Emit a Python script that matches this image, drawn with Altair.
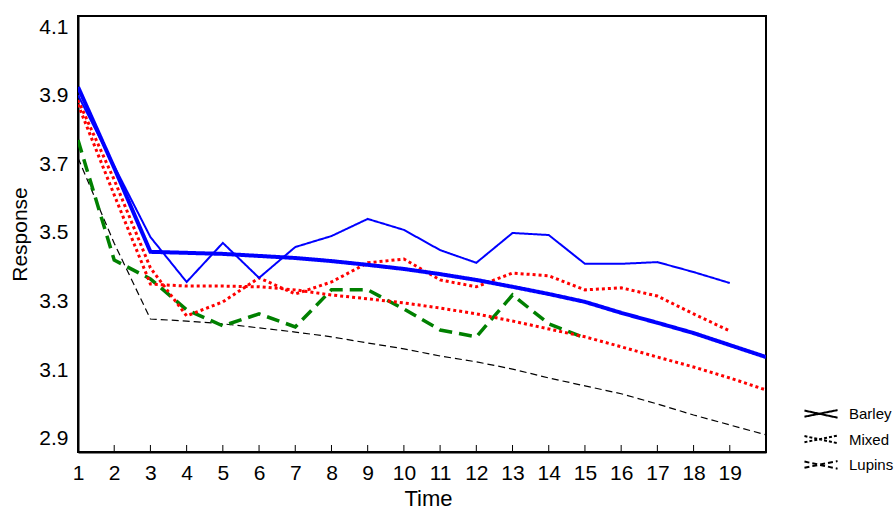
import altair as alt
import pandas as pd

# ---- data ----
times = list(range(1, 21))

barley_obs = [3.902, 3.695, 3.488, 3.357, 3.471, 3.369, 3.459, 3.491, 3.541, 3.509,
              3.450, 3.413, 3.500, 3.494, 3.410, 3.410, 3.415, 3.386, 3.354]
barley_fit = [3.926, 3.690, 3.445, 3.442, 3.439, 3.433, 3.427, 3.418, 3.407, 3.395,
              3.380, 3.363, 3.343, 3.322, 3.299, 3.267, 3.238, 3.208, 3.173, 3.138]
mixed_obs = [3.888, 3.655, 3.398, 3.258, 3.299, 3.369, 3.322, 3.357, 3.413, 3.424,
             3.363, 3.343, 3.383, 3.375, 3.334, 3.340, 3.316, 3.264, 3.214]
mixed_fit = [3.875, 3.611, 3.351, 3.345, 3.345, 3.343, 3.334, 3.319, 3.308, 3.296,
             3.281, 3.264, 3.243, 3.220, 3.197, 3.168, 3.138, 3.109, 3.077, 3.042]
lupins_obs = [3.771, 3.421, 3.366, 3.276, 3.229, 3.264, 3.226, 3.334, 3.334, 3.278,
              3.217, 3.197, 3.319, 3.235, 3.194]
lupins_fit = [3.719, 3.470, 3.249, 3.243, 3.235, 3.223, 3.211, 3.197, 3.179, 3.162,
              3.141, 3.124, 3.103, 3.077, 3.054, 3.031, 3.001, 2.969, 2.940, 2.911]

diets = ["Barley", "Mixed", "Lupins"]
series_names = ["Lupins fit", "Lupins obs", "Mixed fit", "Mixed obs", "Barley obs", "Barley fit"]
series_values = {
    "Barley obs": barley_obs, "Barley fit": barley_fit,
    "Mixed obs": mixed_obs, "Mixed fit": mixed_fit,
    "Lupins obs": lupins_obs, "Lupins fit": lupins_fit,
}
x_tick_labels = list(range(1, 20))
y_tick_labels = [2.9, 3.1, 3.3, 3.5, 3.7, 3.9, 4.1]

rows = []
for s in series_names:
    for t, v in zip(times, series_values[s]):
        rows.append({"Series": s, "Time": t, "Response": v})
df = pd.DataFrame(rows)
ticks_df = pd.DataFrame({"Time": x_tick_labels})
legend_df = pd.DataFrame({"Diet": diets})

FONT = "Liberation Sans"

x_scale = alt.Scale(domain=[1, 20], nice=False, zero=False)
y_scale = alt.Scale(domain=[2.861, 4.133], nice=False, zero=False)

x_axis = alt.Axis(values=x_tick_labels, title="Time", format="d",
                  labelFontSize=21, labelFont=FONT, labelColor="black",
                  labelPadding=10, ticks=False, tickSize=0,
                  labelFlush=False, labelOverlap=False,
                  domainColor="black", domainWidth=2, grid=False,
                  titleFont=FONT, titleFontSize=22, titleFontWeight="normal",
                  titleColor="black", titleX=350, titleY=46,
                  titleBaseline="middle", titleAlign="center")
y_axis = alt.Axis(values=y_tick_labels, title="Response", format=".1f",
                  labelFontSize=21, labelFont=FONT, labelColor="black",
                  labelPadding=10, ticks=False, tickSize=0,
                  labelFlush=False, labelOverlap=False,
                  domainColor="black", domainWidth=2, grid=False,
                  titleFont=FONT, titleFontSize=21, titleFontWeight="normal",
                  titleColor="black", titleX=-58, titleY=218, titleAngle=270,
                  titleBaseline="middle", titleAlign="center")

lines = alt.Chart(df).mark_line(strokeCap="butt", strokeJoin="miter", clip=True).encode(
    x=alt.X("Time:Q", scale=x_scale, axis=x_axis),
    y=alt.Y("Response:Q", scale=y_scale, axis=y_axis),
    color=alt.Color("Series:N", legend=None,
                    scale=alt.Scale(domain=series_names,
                                    range=["black", "green", "red", "red", "blue", "blue"])),
    strokeWidth=alt.StrokeWidth("Series:N", legend=None,
                                scale=alt.Scale(type="ordinal", domain=series_names,
                                                range=[1.2, 3.5, 3, 3, 2, 4])),
    strokeDash=alt.StrokeDash("Series:N", legend=None,
                              scale=alt.Scale(domain=series_names,
                                              range=[[7, 4], [13, 7], [3, 3], [3, 3], [1, 0], [1, 0]])),
    detail="Series:N",
    order="Time:Q",
)

tick_marks = alt.Chart(ticks_df).mark_rule(color="black", strokeWidth=1).encode(
    x=alt.X("Time:Q", scale=x_scale, axis=x_axis),
    y=alt.value(429),
    y2=alt.value(436),
)

# hand-built legend (rows placed by a point scale over the diet names)
legend_y = alt.Y("Diet:N", axis=None,
                 scale=alt.Scale(type="point", domain=diets, range=[398, 449], padding=0))

legend_symbols = alt.Chart(legend_df).mark_point(
    shape="M-1.35,-0.28L1.35,0.3M-1.35,0.22L1.35,-0.32",
    size=600, filled=False, color="black", strokeWidth=2, opacity=1,
).encode(
    x=alt.value(743),
    y=legend_y,
    strokeDash=alt.StrokeDash("Diet:N", legend=None,
                              scale=alt.Scale(domain=diets, range=[[1, 0], [3, 2], [5, 3]])),
)

legend_labels = alt.Chart(legend_df).mark_text(
    align="left", baseline="middle", font=FONT, fontSize=15, color="black",
).encode(
    x=alt.value(771),
    y=legend_y,
    text="Diet:N",
)

chart = alt.layer(lines, tick_marks, legend_symbols, legend_labels).resolve_scale(
    y="independent", strokeDash="independent"
).properties(
    width=688, height=436, background="white",
    autosize=alt.AutoSizeParams(type="none"),
    padding={"left": 78, "top": 16, "right": 130, "bottom": 58},
).configure_view(stroke="black", strokeWidth=2)

chart.save("out.html", embed_options={"renderer": "svg", "actions": False})
